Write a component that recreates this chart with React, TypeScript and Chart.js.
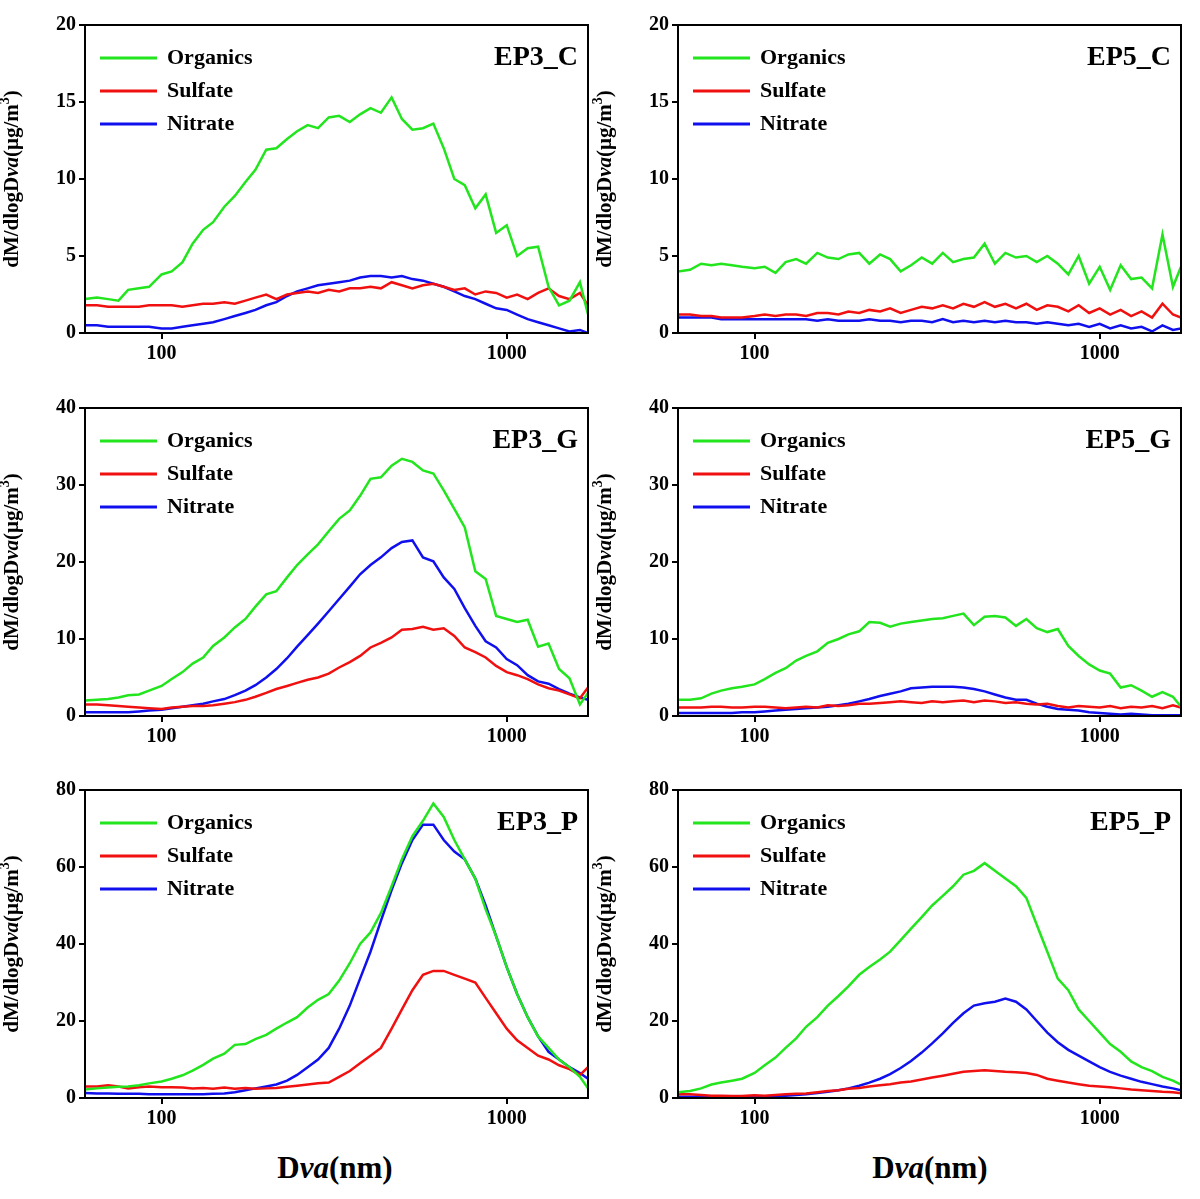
import React, { useEffect, useRef } from "react";
import { Chart, registerables } from "chart.js";
Chart.register(...registerables);

const dva = [60,65,70,75,80,86,92,100,107,115,123,132,141,152,163,175,187,201,215,231,247,265,284,305,327,351,376,403,432,464,497,533,572,613,657,705,756,811,869,932,1000,1072,1150,1233,1322,1418,1520,1630,1720];

const ep3cOrg = [2.2,2.3,2.2,2.1,2.8,2.9,3.0,3.8,4.0,4.6,5.8,6.7,7.2,8.2,8.9,9.8,10.6,11.9,12.0,12.6,13.1,13.5,13.3,14.0,14.1,13.7,14.2,14.6,14.3,15.3,13.9,13.2,13.3,13.6,12.0,10.0,9.6,8.1,9.0,6.5,7.0,5.0,5.5,5.6,3.0,1.8,2.1,3.3,1.2];
const ep3cSul = [1.8,1.8,1.7,1.7,1.7,1.7,1.8,1.8,1.8,1.7,1.8,1.9,1.9,2.0,1.9,2.1,2.3,2.5,2.2,2.5,2.6,2.7,2.6,2.8,2.7,2.9,2.9,3.0,2.9,3.3,3.1,2.9,3.1,3.2,3.0,2.8,2.9,2.5,2.7,2.6,2.3,2.5,2.2,2.6,2.9,2.4,2.2,2.6,1.8];
const ep3cNit = [0.5,0.5,0.4,0.4,0.4,0.4,0.4,0.3,0.3,0.4,0.5,0.6,0.7,0.9,1.1,1.3,1.5,1.8,2.0,2.4,2.7,2.9,3.1,3.2,3.3,3.4,3.6,3.7,3.7,3.6,3.7,3.5,3.4,3.2,3.0,2.7,2.4,2.2,1.9,1.6,1.5,1.2,0.9,0.7,0.5,0.3,0.1,0.2,0.0];

const ep5cOrg = [4.0,4.1,4.5,4.4,4.5,4.4,4.3,4.2,4.3,3.9,4.6,4.8,4.5,5.2,4.9,4.8,5.1,5.2,4.5,5.1,4.8,4.0,4.4,4.9,4.5,5.2,4.6,4.8,4.9,5.8,4.5,5.2,4.9,5.0,4.6,5.0,4.5,3.8,5.0,3.2,4.3,2.8,4.4,3.5,3.6,2.9,6.4,3.0,4.3];
const ep5cSul = [1.2,1.2,1.1,1.1,1.0,1.0,1.0,1.1,1.2,1.1,1.2,1.2,1.1,1.3,1.3,1.2,1.4,1.3,1.5,1.4,1.6,1.3,1.5,1.7,1.6,1.8,1.6,1.9,1.7,2.0,1.7,1.9,1.6,1.9,1.5,1.8,1.7,1.4,1.8,1.3,1.6,1.2,1.5,1.1,1.4,1.0,1.9,1.2,1.0];
const ep5cNit = [1.0,1.0,1.0,1.0,0.9,0.9,0.9,0.9,0.9,0.9,0.9,0.9,0.9,0.8,0.9,0.8,0.8,0.8,0.9,0.8,0.8,0.7,0.8,0.8,0.7,0.9,0.7,0.8,0.7,0.8,0.7,0.8,0.7,0.7,0.6,0.7,0.6,0.5,0.6,0.4,0.6,0.3,0.5,0.3,0.4,0.1,0.5,0.2,0.3];

const ep3gOrg = [2.0,2.1,2.2,2.4,2.7,2.8,3.3,3.9,4.8,5.7,6.8,7.6,9.1,10.2,11.5,12.6,14.2,15.8,16.2,18.0,19.6,21.0,22.3,24.0,25.6,26.7,28.6,30.8,31.0,32.5,33.4,33.0,31.9,31.5,29.3,26.9,24.5,18.8,17.8,13.0,12.6,12.2,12.5,9.0,9.4,6.1,4.9,1.5,3.0];
const ep3gSul = [1.5,1.5,1.4,1.3,1.2,1.1,1.0,0.9,1.1,1.2,1.3,1.3,1.4,1.6,1.8,2.1,2.5,3.0,3.5,3.9,4.3,4.7,5.0,5.5,6.3,7.0,7.8,8.9,9.5,10.2,11.2,11.3,11.6,11.2,11.4,10.4,8.9,8.3,7.6,6.5,5.7,5.3,4.8,4.1,3.6,3.3,2.8,2.3,3.7];
const ep3gNit = [0.5,0.5,0.5,0.5,0.5,0.6,0.7,0.8,1.0,1.2,1.4,1.6,1.9,2.2,2.7,3.3,4.0,5.0,6.1,7.5,9.0,10.5,12.0,13.6,15.2,16.8,18.4,19.6,20.6,21.8,22.6,22.8,20.6,20.1,18.0,16.5,14.0,11.7,9.7,8.9,7.4,6.6,5.3,4.5,4.2,3.5,2.9,2.4,2.1];

const ep5gOrg = [2.1,2.1,2.3,2.9,3.3,3.6,3.8,4.1,4.8,5.6,6.2,7.2,7.8,8.4,9.5,10.0,10.6,11.0,12.2,12.1,11.6,12.0,12.2,12.4,12.6,12.7,13.0,13.3,11.8,12.9,13.0,12.8,11.7,12.6,11.4,10.9,11.3,9.1,7.8,6.7,5.9,5.5,3.7,4.0,3.3,2.5,3.1,2.5,1.2];
const ep5gSul = [1.1,1.1,1.1,1.2,1.2,1.1,1.1,1.2,1.2,1.1,1.0,1.1,1.2,1.1,1.4,1.3,1.4,1.6,1.6,1.7,1.8,1.9,1.8,1.7,1.9,1.8,1.9,2.0,1.8,2.0,1.9,1.7,1.8,1.6,1.5,1.6,1.3,1.1,1.3,1.2,1.1,1.3,1.0,1.2,1.1,1.3,1.0,1.4,1.1];
const ep5gNit = [0.4,0.4,0.4,0.4,0.4,0.4,0.5,0.5,0.6,0.7,0.8,0.9,1.0,1.1,1.2,1.4,1.6,1.9,2.2,2.6,2.9,3.2,3.6,3.7,3.8,3.8,3.8,3.7,3.5,3.2,2.8,2.4,2.1,2.1,1.6,1.2,0.9,0.8,0.7,0.5,0.4,0.3,0.2,0.3,0.2,0.1,0.1,0.1,0.1];

const ep3pOrg = [2.2,2.5,2.7,2.9,3.0,3.3,3.8,4.3,5.0,5.9,7.1,8.6,10.2,11.5,13.8,14.0,15.3,16.4,18.0,19.6,21.0,23.5,25.5,27.0,30.5,35.0,40.0,43.0,48.0,55.0,62.0,68.0,72.0,76.5,73.0,67.0,62.0,57.0,49.0,42.0,34.0,27.0,21.0,16.0,13.0,10.0,8.0,5.5,2.5];
const ep3pSul = [3.0,3.0,3.3,3.0,2.5,2.8,3.0,2.8,2.8,2.7,2.5,2.6,2.4,2.7,2.4,2.6,2.4,2.5,2.6,2.9,3.2,3.5,3.8,4.0,5.5,7.0,9.0,11.0,13.0,18.0,23.0,28.0,32.0,33.0,33.0,32.0,31.0,30.0,26.0,22.0,18.0,15.0,13.0,11.0,10.0,8.5,7.5,6.0,8.0];
const ep3pNit = [1.3,1.2,1.2,1.1,1.1,1.1,1.0,1.0,1.0,1.0,1.0,1.0,1.1,1.2,1.5,2.0,2.5,3.0,3.5,4.5,6.0,8.0,10.0,13.0,18.0,24.0,31.0,38.0,46.0,54.0,61.0,67.0,71.0,71.0,67.0,64.0,62.0,57.0,50.0,42.0,34.0,27.0,21.0,16.0,12.0,10.0,8.0,6.5,5.0];

const ep5pOrg = [1.5,1.8,2.5,3.5,4.0,4.5,5.0,6.5,8.5,10.5,13.0,15.5,18.5,21.0,24.0,26.5,29.0,32.0,34.0,36.0,38.0,41.0,44.0,47.0,50.0,52.5,55.0,58.0,59.0,61.0,59.0,57.0,55.0,52.0,45.0,38.0,31.0,28.0,23.0,20.0,17.0,14.0,12.0,9.5,8.0,7.0,5.5,4.5,3.5];
const ep5pSul = [1.0,1.0,0.8,0.6,0.6,0.5,0.5,0.7,0.6,0.8,1.0,1.1,1.2,1.5,1.8,2.0,2.4,2.6,3.0,3.3,3.6,4.0,4.3,4.8,5.3,5.8,6.3,6.8,7.0,7.2,7.0,6.8,6.7,6.5,6.0,5.0,4.5,4.0,3.6,3.2,3.0,2.8,2.5,2.2,2.0,1.8,1.6,1.5,1.2];
const ep5pNit = [0.3,0.3,0.3,0.3,0.3,0.3,0.3,0.3,0.4,0.5,0.6,0.8,1.0,1.3,1.6,2.0,2.5,3.2,4.0,5.0,6.2,7.8,9.6,11.8,14.2,16.8,19.5,22.0,24.0,24.6,25.0,25.8,25.0,23.0,20.0,17.0,14.5,12.5,11.0,9.5,8.0,6.8,5.8,5.0,4.2,3.6,3.0,2.5,2.0];

const seriesNames = ["Organics", "Sulfate", "Nitrate"];
const seriesColors = ["#22e51e", "#f01010", "#1010ee"];
const xTickLabels = [100, 1000];

const panels = [
  { name: "EP3_C", yMax: 20, step: 5, data: [ep3cOrg, ep3cSul, ep3cNit], left: 85, top: 25 },
  { name: "EP5_C", yMax: 20, step: 5, data: [ep5cOrg, ep5cSul, ep5cNit], left: 678, top: 25 },
  { name: "EP3_G", yMax: 40, step: 10, data: [ep3gOrg, ep3gSul, ep3gNit], left: 85, top: 408 },
  { name: "EP5_G", yMax: 40, step: 10, data: [ep5gOrg, ep5gSul, ep5gNit], left: 678, top: 408 },
  { name: "EP3_P", yMax: 80, step: 20, data: [ep3pOrg, ep3pSul, ep3pNit], left: 85, top: 790 },
  { name: "EP5_P", yMax: 80, step: 20, data: [ep5pOrg, ep5pSul, ep5pNit], left: 678, top: 790 },
];

const PW = 503, PH = 308, PAD_L = 88, PAD_T = 25, PAD_R = 15, PAD_B = 40;
const FONT = "'Liberation Serif', 'DejaVu Serif', serif";

function Panel({ p }: { p: any }) {
  const ref = useRef<HTMLCanvasElement>(null);
  useEffect(() => {
    const deco = {
      id: "deco",
      afterDraw(chart: any) {
        const { ctx, chartArea: a } = chart;
        ctx.save();
        ctx.strokeStyle = "#000";
        ctx.lineWidth = 2;
        ctx.strokeRect(a.left, a.top, a.right - a.left, a.bottom - a.top);
        ctx.font = `bold 22px ${FONT}`;
        ctx.textBaseline = "middle";
        seriesNames.forEach((n, i) => {
          const y = a.top + 33 + i * 33;
          ctx.strokeStyle = seriesColors[i];
          ctx.lineWidth = 3;
          ctx.beginPath();
          ctx.moveTo(a.left + 15, y);
          ctx.lineTo(a.left + 72, y);
          ctx.stroke();
          ctx.fillStyle = "#000";
          ctx.fillText(n, a.left + 82, y);
        });
        ctx.font = `bold 28px ${FONT}`;
        ctx.textAlign = "right";
        ctx.fillText(p.name, a.right - 10, a.top + 33);
        // y title with italic "va"
        const cy = (a.top + a.bottom) / 2;
        ctx.translate(16, cy);
        ctx.rotate(-Math.PI / 2);
        ctx.textAlign = "left";
        const parts: [string, string][] = [
          ["dM/dlogD", "bold"], ["va", "italic bold"], ["(μg/m", "bold"],
        ];
        const fsz = 21;
        let total = 0;
        parts.forEach(([t, s]) => { ctx.font = `${s} ${fsz}px ${FONT}`; total += ctx.measureText(t).width; });
        ctx.font = `bold 14px ${FONT}`; total += ctx.measureText("3").width;
        ctx.font = `bold ${fsz}px ${FONT}`; total += ctx.measureText(")").width;
        let x = -total / 2;
        parts.forEach(([t, s]) => { ctx.font = `${s} ${fsz}px ${FONT}`; ctx.fillText(t, x, 0); x += ctx.measureText(t).width; });
        ctx.font = `bold 14px ${FONT}`; ctx.fillText("3", x, -8); x += ctx.measureText("3").width;
        ctx.font = `bold ${fsz}px ${FONT}`; ctx.fillText(")", x, 0);
        ctx.restore();
      },
    };
    const chart = new Chart(ref.current!, {
      type: "line",
      data: {
        labels: dva,
        datasets: p.data.map((d: number[], i: number) => ({
          label: seriesNames[i],
          data: d.map((v, j) => ({ x: dva[j], y: v })),
          borderColor: seriesColors[i],
          borderWidth: 2.5,
          pointRadius: 0,
          tension: 0,
        })),
      },
      options: {
        animation: false,
        responsive: false,
        layout: { padding: { top: PAD_T, right: PAD_R } },
        plugins: { legend: { display: false }, tooltip: { enabled: false } },
        scales: {
          x: {
            type: "logarithmic",
            min: 60,
            max: 1720,
            grid: { display: true, drawOnChartArea: false, color: "#000", lineWidth: 2, tickLength: 6 },
            border: { display: false },
            afterBuildTicks: (s: any) => { s.ticks = xTickLabels.map((v) => ({ value: v })); },
            afterFit: (s: any) => { s.height = PAD_B; },
            ticks: { color: "#000", font: { family: FONT, size: 20, weight: "bold" }, maxRotation: 0, callback: (v: any) => String(v) },
          },
          y: {
            min: 0,
            max: p.yMax,
            grid: { display: true, drawOnChartArea: false, color: "#000", lineWidth: 2, tickLength: 6 },
            border: { display: false },
            afterFit: (s: any) => { s.width = PAD_L; },
            ticks: { stepSize: p.step, color: "#000", font: { family: FONT, size: 20, weight: "bold" } },
          },
        },
      },
      plugins: [deco],
    } as any);
    return () => chart.destroy();
  }, []);
  return (
    <canvas
      ref={ref}
      width={PW + PAD_L + PAD_R}
      height={PH + PAD_T + PAD_B}
      style={{ position: "absolute", left: p.left - PAD_L, top: p.top - PAD_T }}
    />
  );
}

export default function App() {
  const title = (x: number) => (
    <div style={{ position: "absolute", left: x - 100, width: 200, top: 1150, textAlign: "center", fontFamily: FONT, fontWeight: "bold", fontSize: 31 }}>
      D<i>va</i>(nm)
    </div>
  );
  return (
    <div style={{ position: "absolute", left: 0, top: 0, width: 1200, height: 1199, background: "#fff" }}>
      {panels.map((p) => <Panel key={p.name} p={p} />)}
      {title(335)}
      {title(930)}
    </div>
  );
}
